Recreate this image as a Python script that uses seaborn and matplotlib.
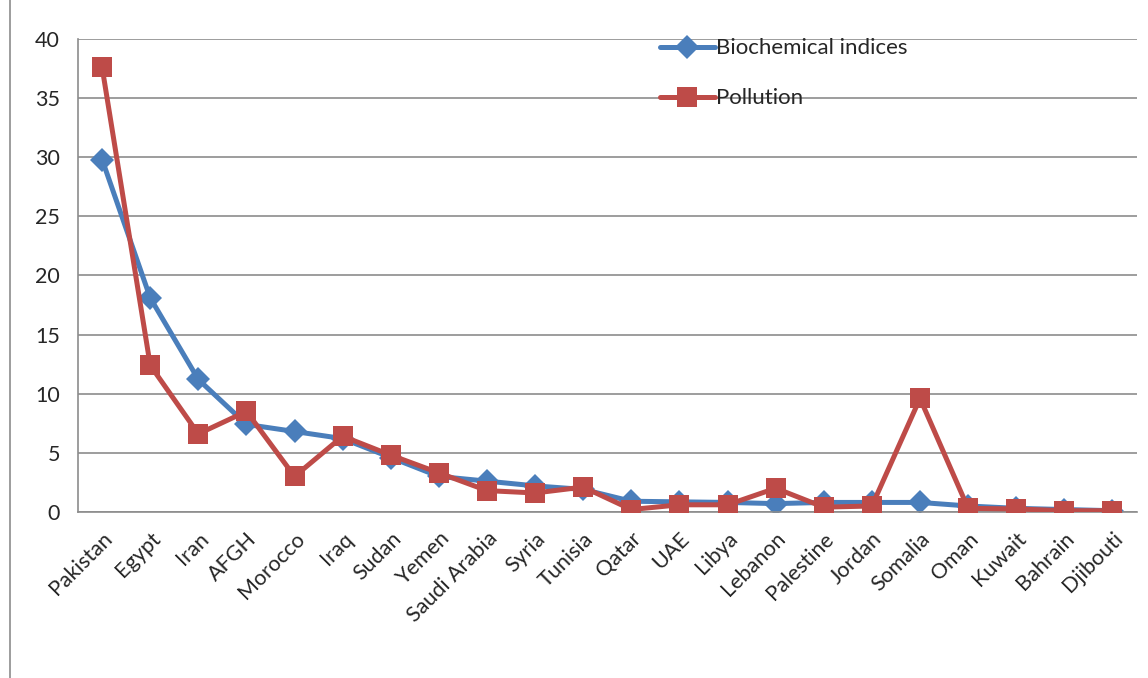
import numpy as np
import pandas as pd
import seaborn as sns
import matplotlib.pyplot as plt
from matplotlib.lines import Line2D

countries = ['Pakistan', 'Egypt', 'Iran', 'AFGH', 'Morocco', 'Iraq', 'Sudan', 'Yemen',
             'Saudi Arabia', 'Syria', 'Tunisia', 'Qatar', 'UAE', 'Libya', 'Lebanon',
             'Palestine', 'Jordan', 'Somalia', 'Oman', 'Kuwait', 'Bahrain', 'Djibouti']
biochemical = [29.8, 18.1, 11.2, 7.4, 6.8, 6.2, 4.6, 3.0, 2.6, 2.2, 1.9, 0.9, 0.85,
               0.8, 0.7, 0.8, 0.8, 0.8, 0.5, 0.3, 0.2, 0.1]
pollution = [37.6, 12.4, 6.6, 8.5, 3.0, 6.4, 4.8, 3.3, 1.8, 1.6, 2.1, 0.2, 0.6,
             0.6, 2.0, 0.4, 0.5, 9.6, 0.3, 0.25, 0.1, 0.1]
series_names = ['Biochemical indices', 'Pollution']

df = pd.DataFrame({
    'country': countries * 2,
    'value': biochemical + pollution,
    'series': [series_names[0]] * len(countries) + [series_names[1]] * len(countries),
})

sns.set_style('white')
plt.rcParams['font.family'] = ['Lato', 'DejaVu Sans']

fig = plt.figure(figsize=(11.48, 6.78), dpi=100)
ax = fig.add_axes([0.068, 0.245, 0.922, 0.6975])

palette = {series_names[0]: '#4A7EBB', series_names[1]: '#BE4B48'}
sns.lineplot(data=df, x='country', y='value', hue='series', style='series',
             markers={series_names[0]: 'D', series_names[1]: 's'},
             dashes=False, sort=False, palette=palette, linewidth=3.6,
             markersize=12, markeredgewidth=0, ax=ax)

# square a bit bigger than the diamond, red on top
for line in ax.lines:
    if line.get_marker() == 's':
        line.set_markersize(14)
        line.set_zorder(3)
    elif line.get_marker() == 'D':
        line.set_markersize(12)

ax.set_xlim(-0.5, len(countries) - 0.5)
ax.set_ylim(0, 40)
ax.set_yticks(np.arange(0, 41, 5))
ax.yaxis.grid(True, color='#8c8c8c', linewidth=1.2)
ax.set_axisbelow(True)
ax.set_xlabel('')
ax.set_ylabel('')

ax.set_xticks(range(len(countries)))
ax.set_xticklabels(countries, rotation=45, ha='right', rotation_mode='anchor', fontsize=15.5)
ax.set_xticks(np.arange(-0.5, len(countries), 1), minor=True)
ax.tick_params(axis='x', which='major', length=0, pad=12)
ax.tick_params(axis='x', which='minor', length=8, color='#8c8c8c', width=1.2, direction='out')
ax.tick_params(axis='y', length=8, color='#8c8c8c', width=1.2, direction='out', labelsize=15.5, pad=5)

for s in ['top', 'right']:
    ax.spines[s].set_visible(False)
for s in ['left', 'bottom']:
    ax.spines[s].set_color('#8c8c8c')
    ax.spines[s].set_linewidth(1.2)

leg = ax.legend(loc='upper left', bbox_to_anchor=(0.541, 1.02), frameon=False,
                fontsize=16, handlelength=2.5, handletextpad=0.05, labelspacing=1.35,
                borderaxespad=0)

fig.add_artist(Line2D([0.009, 0.009], [0, 1], color='#8c8c8c', linewidth=1.2,
                      transform=fig.transFigure))

fig.savefig('out.png', dpi=100)
